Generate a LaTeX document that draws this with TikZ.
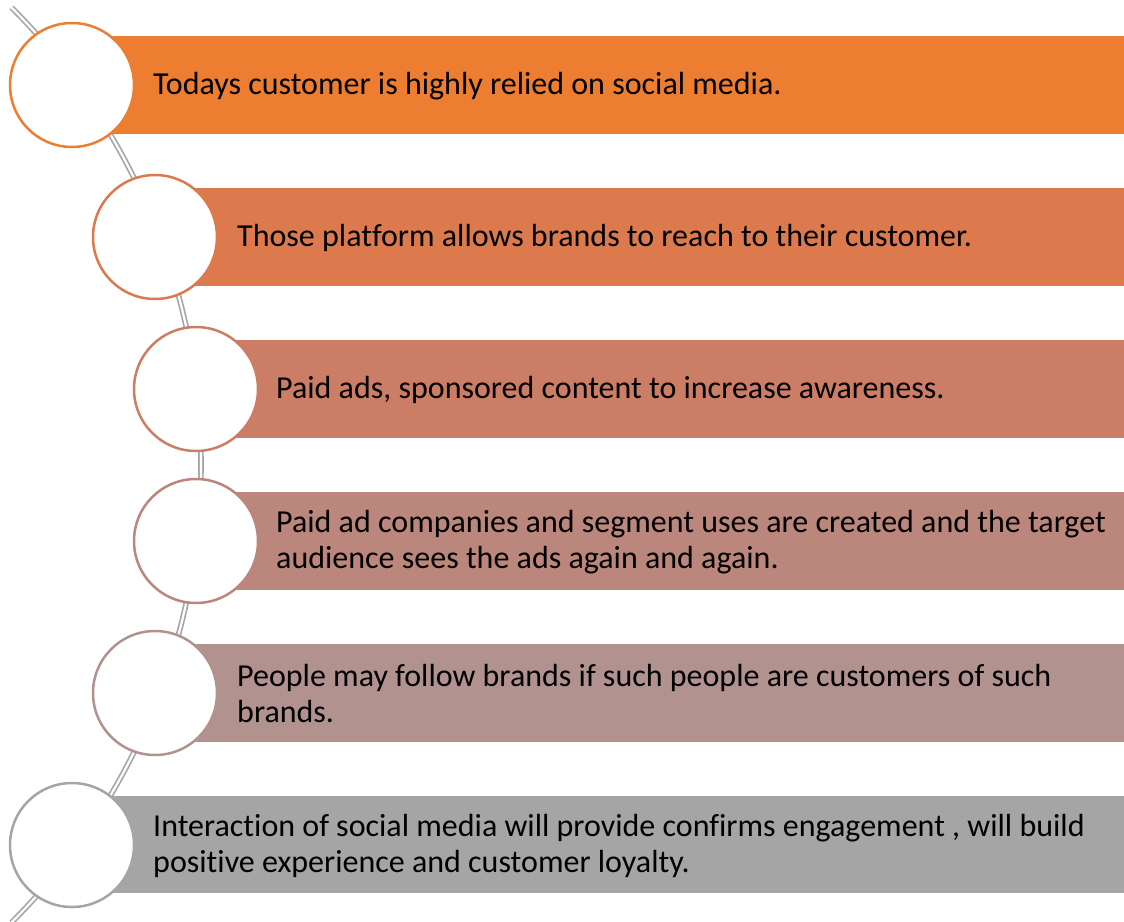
\documentclass[tikz,border=0pt]{standalone}
\usepackage{fontspec}
\setmainfont{Carlito}[RawFeature={-liga}]
\definecolor{cA}{HTML}{ED7D31}
\definecolor{cB}{HTML}{DC7A4E}
\definecolor{cC}{HTML}{CC7D65}
\definecolor{cD}{HTML}{BB867B}
\definecolor{cE}{HTML}{B1928F}
\definecolor{cF}{HTML}{A5A5A5}
\definecolor{connc}{HTML}{A6A6A6}
\begin{document}
\begin{tikzpicture}[x=1pt,y=-1pt,
  ring/.style={circle,draw=#1,line width=2.5pt,fill=white,minimum size=124pt,inner sep=0pt},
  label/.style={anchor=west,align=left,inner sep=0pt,text=black,font=\fontsize{32}{36}\selectfont},
  conn/.style={draw=connc,line width=1.7pt,double=white,double distance=2.2pt,line cap=butt}]
\useasboundingbox (0,0) rectangle (1124,921);
% connector arc (center (-446,465), radius 647)
\coordinate (arcstart) at (11.5,7.5);
\coordinate (arcend) at (11.5,922.5);
\draw[conn] (arcstart) arc[start angle=45,end angle=-45,radius=647pt];
% bars
\fill[cA] (72,36) rectangle (1124,134);
\fill[cB] (155,188) rectangle (1124,286);
\fill[cC] (196,340) rectangle (1124,438);
\fill[cD] (196,492) rectangle (1124,590);
\fill[cE] (155,644) rectangle (1124,742);
\fill[cF] (72,796) rectangle (1124,893);
% circles
\node[ring=cA] (c1) at (72,85) {};
\node[ring=cB] (c2) at (155,237) {};
\node[ring=cC] (c3) at (196,389) {};
\node[ring=cD] (c4) at (196,541) {};
\node[ring=cE] (c5) at (155,693) {};
\node[ring=cF] (c6) at (72,845) {};
% texts
\node[label] (t1) at (153,86) {Todays customer is highly relied on social media.};
\node[label] (t2) at (237,238) {Those platform allows brands to reach to their customer.};
\node[label] (t3) at (276,390) {Paid ads, sponsored content to increase awareness.};
\node[label] (t4) at (276,542) {Paid ad companies and segment uses are created and the target\\audience sees the ads again and again.};
\node[label] (t5) at (237,694) {People may follow brands if such people are customers of such\\brands.};
\node[label] (t6) at (153,846) {Interaction of social media will provide confirms engagement , will build\\positive experience and customer loyalty.};
\end{tikzpicture}
\end{document}
